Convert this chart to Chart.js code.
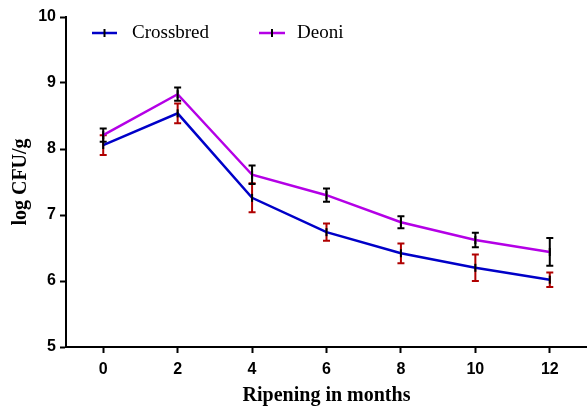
<!DOCTYPE html>
<html>
<head>
<meta charset="utf-8">
<script src="https://cdn.jsdelivr.net/npm/chart.js@4/dist/chart.umd.min.js"></script>
<style>
html,body{margin:0;padding:0;background:#fff;}
#wrap{width:587px;height:409px;}
</style>
</head>
<body>
<div id="wrap"><canvas id="c" width="587" height="409"></canvas></div>
<script>
const months = [0, 2, 4, 6, 8, 10, 12];
const xTickValues = [0, 2, 4, 6, 8, 10, 12];
const crossbred = [8.06, 8.54, 7.26, 6.74, 6.42, 6.20, 6.02];
const crossbredErr = [0.15, 0.15, 0.22, 0.13, 0.15, 0.20, 0.11];
const deoni = [8.21, 8.83, 7.61, 7.30, 6.89, 6.62, 6.44];
const deoniErr = [0.10, 0.10, 0.14, 0.10, 0.09, 0.11, 0.21];
const seriesNames = ['Crossbred', 'Deoni'];

const errorBars = {
  id: 'errorBars',
  beforeDatasetsDraw(chart) {
    const ctx = chart.ctx;
    const xs = chart.scales.x, ys = chart.scales.y;
    chart.data.datasets.forEach(ds => {
      const errs = ds.errors;
      ctx.save();
      ctx.strokeStyle = ds.errorColor;
      ctx.lineWidth = 2;
      ds.data.forEach((p, i) => {
        const x = xs.getPixelForValue(p.x);
        const yt = ys.getPixelForValue(p.y + errs[i]);
        const yb = ys.getPixelForValue(p.y - errs[i]);
        ctx.beginPath();
        ctx.moveTo(x, yt); ctx.lineTo(x, yb);
        ctx.moveTo(x - 3.5, yt); ctx.lineTo(x + 3.5, yt);
        ctx.moveTo(x - 3.5, yb); ctx.lineTo(x + 3.5, yb);
        ctx.stroke();
      });
      ctx.restore();
    });
  }
};

const customLegend = {
  id: 'customLegend',
  afterDraw(chart) {
    const ctx = chart.ctx;
    const pos = [{x0: 92, x1: 117, tx: 132}, {x0: 259, x1: 285, tx: 297}];
    const y = 33;
    chart.data.datasets.forEach((ds, i) => {
      const p = pos[i];
      ctx.save();
      ctx.strokeStyle = ds.borderColor;
      ctx.lineWidth = 2.5;
      ctx.beginPath(); ctx.moveTo(p.x0, y); ctx.lineTo(p.x1, y); ctx.stroke();
      ctx.strokeStyle = '#000'; ctx.lineWidth = 2;
      const mx = (p.x0 + p.x1) / 2;
      ctx.beginPath(); ctx.moveTo(mx, y - 4); ctx.lineTo(mx, y + 4); ctx.stroke();
      ctx.fillStyle = '#000';
      ctx.font = '19px "Liberation Serif", "Times New Roman", serif';
      ctx.textBaseline = 'middle';
      ctx.textAlign = 'left';
      ctx.fillText(ds.label, p.tx, y);
      ctx.restore();
    });
  }
};

const mk = (vals) => months.map((m, i) => ({x: m, y: vals[i]}));

new Chart(document.getElementById('c'), {
  type: 'line',
  data: {
    datasets: [
      {label: seriesNames[0], data: mk(crossbred), errors: crossbredErr, errorColor: '#b00000',
       borderColor: '#0000c8', borderWidth: 2.5, fill: false, tension: 0,
       pointStyle: 'line', rotation: 90, pointRadius: 4, pointBorderColor: '#000', pointBorderWidth: 2, pointHoverRadius: 4},
      {label: seriesNames[1], data: mk(deoni), errors: deoniErr, errorColor: '#000000',
       borderColor: '#b400e6', borderWidth: 2.5, fill: false, tension: 0,
       pointStyle: 'line', rotation: 90, pointRadius: 4, pointBorderColor: '#000', pointBorderWidth: 2, pointHoverRadius: 4}
    ]
  },
  options: {
    responsive: false,
    animation: false,
    events: [],
    layout: {autoPadding: false, padding: {left: 0, right: 0, top: 17, bottom: 0}},
    plugins: {legend: {display: false}, tooltip: {enabled: false}},
    scales: {
      x: {
        type: 'linear', min: -1, max: 13,
        afterBuildTicks: (axis) => { axis.ticks = xTickValues.map(v => ({value: v})); },
        afterFit: (s) => { s.height = 62; s.paddingRight = 0; s.paddingLeft = 0; },
        border: {display: true, color: '#000', width: 2},
        grid: {display: true, drawOnChartArea: false, drawTicks: true, tickLength: 6, tickWidth: 2, tickColor: '#000'},
        ticks: {color: '#000', padding: 7, font: {family: '"Liberation Sans", Arial, sans-serif', size: 16, weight: 'bold'}, maxRotation: 0},
        title: {display: true, text: 'Ripening in months', color: '#000', padding: {top: 0, bottom: 1},
                font: {family: '"Liberation Serif", "Times New Roman", serif', size: 20, weight: 'bold'}}
      },
      y: {
        type: 'linear', min: 5, max: 10,
        afterFit: (s) => { s.width = 66; },
        border: {display: true, color: '#000', width: 2},
        grid: {display: true, drawOnChartArea: false, drawTicks: true, tickLength: 6, tickWidth: 2, tickColor: '#000'},
        ticks: {stepSize: 1, color: '#000', padding: 4, font: {family: '"Liberation Sans", Arial, sans-serif', size: 16, weight: 'bold'}},
        title: {display: true, text: 'log CFU/g', color: '#000', padding: {top: 9, bottom: 0},
                font: {family: '"Liberation Serif", "Times New Roman", serif', size: 20, weight: 'bold'}}
      }
    }
  },
  plugins: [errorBars, customLegend]
});
</script>
</body>
</html>
